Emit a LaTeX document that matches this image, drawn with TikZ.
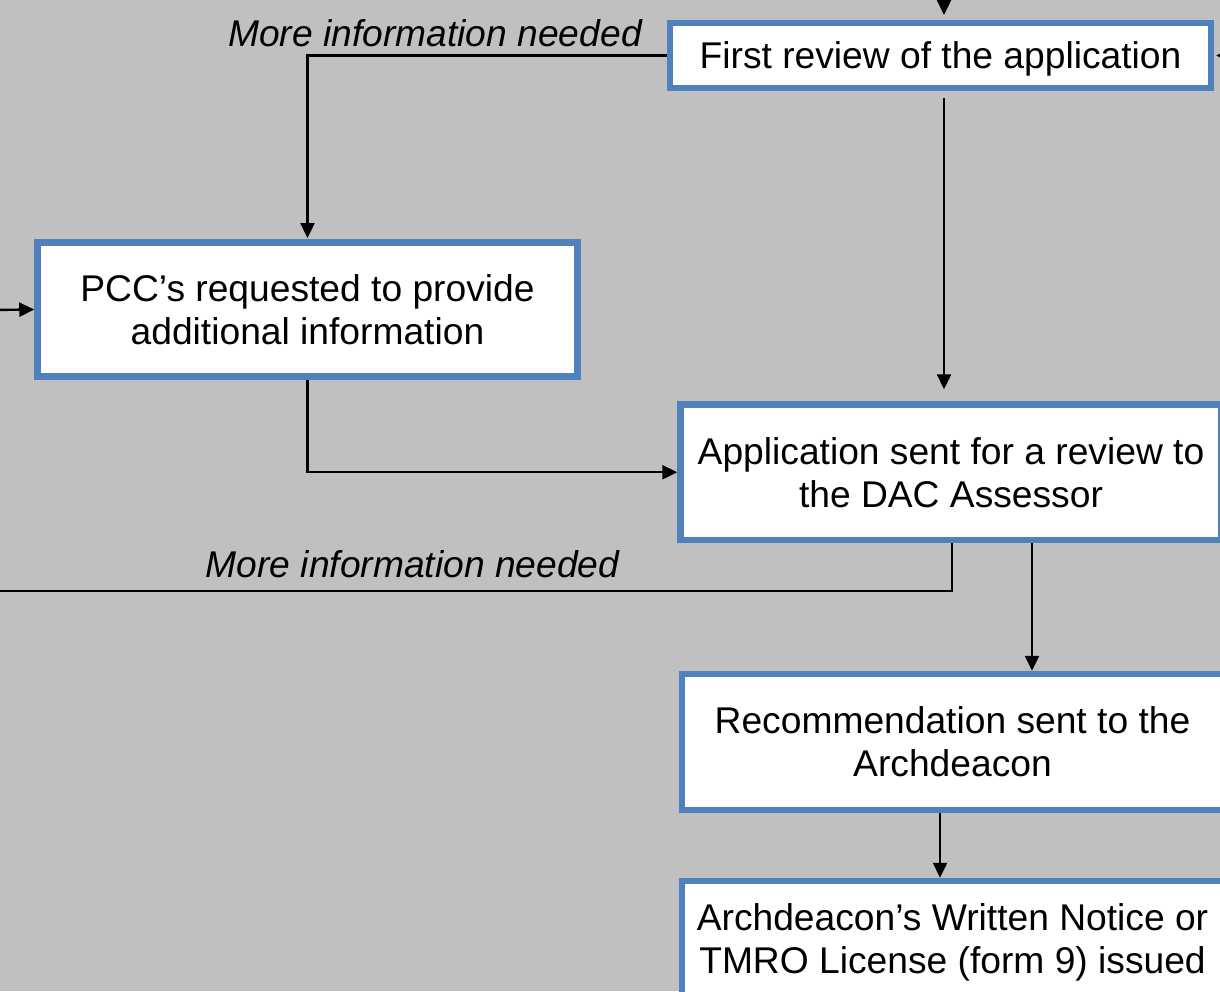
\documentclass[tikz,border=0pt]{standalone}
\usepackage{fontspec}
\setmainfont{Liberation Sans}
\usetikzlibrary{arrows.meta,calc}
\definecolor{bgcol}{RGB}{192,192,192}
\definecolor{boxblue}{RGB}{79,129,189}
\newcommand{\boxfont}{\fontsize{37.2pt}{43pt}\selectfont}
\newcommand{\lblfont}{\fontsize{37.2pt}{43pt}\selectfont\itshape}
\begin{document}
\begin{tikzpicture}[x=1pt,y=-1pt,
  box/.style={draw=boxblue, line width=6.5pt, fill=white, align=center, inner sep=0pt, font=\boxfont},
  arr/.style={line width=2.4pt, -{Triangle[length=15pt,width=14pt]}},
  conn/.style={line width=2.4pt},
  lbl/.style={font=\lblfont, inner sep=0pt}]
\fill[bgcol] (0,0) rectangle (1220,991);
\useasboundingbox (0,0) rectangle (1220,991);
\clip (0,0) rectangle (1220,991);

\node[box, minimum width=541pt, minimum height=65pt, text depth=0pt] (first) at (940.5,55.5) {First review of the application};
\node[box, minimum width=540pt, minimum height=134pt] (pcc) at (307.5,309.5) {PCC’s requested to provide\\additional information};
\node[box, minimum width=541pt, minimum height=135.5pt] (dac) at (951,472.25) {Application sent for a review to\\the DAC Assessor};
\node[box, minimum width=541pt, minimum height=136pt] (rec) at (952.5,742) {Recommendation sent to the\\Archdeacon};
\node[box, minimum width=541pt, minimum height=122pt] (last) at (952.5,942) {Archdeacon’s Written Notice or\\TMRO License (form 9) issued};

\node[lbl, anchor=base] (l1) at (435,46) {More information needed};
\node[lbl, anchor=base] (l2) at (412.5,577.3) {More information needed};

\coordinate (topin) at (944,-10);
\coordinate (rightin) at (1250,55.5);
\coordinate (leftin) at (-10,310);
\coordinate (leftout) at (-10,591);

\draw[arr, shorten >=4.75pt] (topin) -- (topin |- first.north);
\draw[arr, shorten >=2pt] (rightin) -- (first.east);
\draw[arr, shorten >=1.25pt] (first.west) -| (pcc.north);
\draw[arr, shorten <=6.75pt, shorten >=12pt] ([xshift=3.5pt]first.south) -- ([xshift=3.5pt]first.south |- dac.north);
\draw[arr] (pcc.south) |- (dac.west);
\draw[arr] (leftin) -- (pcc.west);
\draw[conn] ([xshift=1pt]dac.south) |- (leftout);
\draw[arr] ([xshift=81pt]dac.south) -- ([xshift=81pt]dac.south |- rec.north);
\draw[arr] ([xshift=-12.5pt]rec.south) -- ([xshift=-12.5pt]rec.south |- last.north);
\end{tikzpicture}
\end{document}
